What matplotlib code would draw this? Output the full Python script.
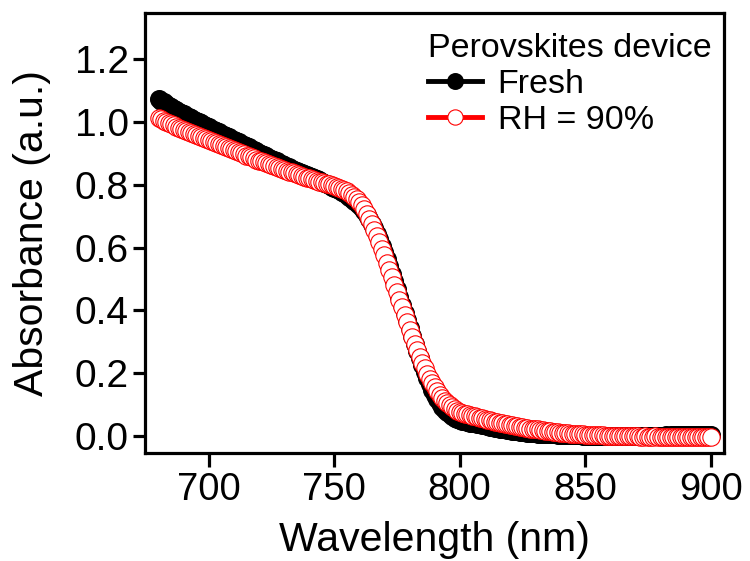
import numpy as np
import matplotlib
matplotlib.use("Agg")
import matplotlib.pyplot as plt

# wavelength grid (nm), one reading per nm
wavelength = np.arange(680, 901)

# absorbance, 680..900 nm
fresh = [
    1.072, 1.067, 1.062, 1.057, 1.052, 1.047, 1.042, 1.038, 1.033, 1.028,
    1.024, 1.020, 1.015, 1.011, 1.007, 1.003, 0.999, 0.995, 0.991, 0.987,
    0.983, 0.979, 0.975, 0.971, 0.967, 0.963, 0.959, 0.955, 0.951, 0.947,
    0.943, 0.939, 0.935, 0.931, 0.927, 0.923, 0.919, 0.914, 0.910, 0.906,
    0.902, 0.898, 0.894, 0.890, 0.886, 0.882, 0.878, 0.874, 0.870, 0.866,
    0.862, 0.858, 0.855, 0.851, 0.848, 0.844, 0.841, 0.837, 0.834, 0.831,
    0.827, 0.824, 0.821, 0.817, 0.814, 0.810, 0.806, 0.802, 0.798, 0.794,
    0.790, 0.786, 0.782, 0.777, 0.773, 0.768, 0.762, 0.756, 0.749, 0.742,
    0.735, 0.726, 0.715, 0.703, 0.690, 0.676, 0.661, 0.644, 0.626, 0.606,
    0.585, 0.563, 0.540, 0.516, 0.492, 0.468, 0.443, 0.418, 0.393, 0.368,
    0.343, 0.318, 0.294, 0.270, 0.247, 0.225, 0.204, 0.184, 0.165, 0.148,
    0.132, 0.118, 0.105, 0.094, 0.084, 0.076, 0.069, 0.063, 0.058, 0.054,
    0.051, 0.049, 0.047, 0.045, 0.043, 0.041, 0.040, 0.038, 0.037, 0.035,
    0.034, 0.032, 0.030, 0.028, 0.027, 0.025, 0.024, 0.022, 0.021, 0.019,
    0.018, 0.017, 0.016, 0.015, 0.014, 0.013, 0.012, 0.011, 0.010, 0.010,
    0.009, 0.008, 0.008, 0.007, 0.007, 0.006, 0.006, 0.005, 0.005, 0.004,
    0.004, 0.004, 0.003, 0.003, 0.003, 0.002, 0.002, 0.002, 0.002, 0.001,
    0.001, 0.001, 0.001, 0.001, 0.000, 0.000, 0.000, 0.000, 0.000, 0.000,
    0.000, 0.000, 0.000, 0.000, 0.000, 0.000, 0.000, 0.000, 0.001, 0.000,
    0.000, 0.001, 0.000, 0.001, 0.001, 0.001, 0.001, 0.001, 0.001, 0.001,
    0.001, 0.001, 0.002, 0.001, 0.002, 0.002, 0.002, 0.002, 0.002, 0.002,
    0.002, 0.002, 0.002, 0.003, 0.002, 0.002, 0.003, 0.002, 0.003, 0.003,
    0.003,
]

rh90 = [
    1.012, 1.008, 1.004, 1.000, 0.996, 0.993, 0.989, 0.985, 0.982, 0.978,
    0.975, 0.972, 0.968, 0.965, 0.961, 0.958, 0.955, 0.951, 0.948, 0.945,
    0.942, 0.939, 0.935, 0.932, 0.929, 0.926, 0.923, 0.919, 0.916, 0.913,
    0.910, 0.907, 0.903, 0.900, 0.897, 0.893, 0.890, 0.887, 0.884, 0.880,
    0.877, 0.874, 0.871, 0.868, 0.865, 0.862, 0.859, 0.856, 0.853, 0.851,
    0.848, 0.845, 0.842, 0.839, 0.837, 0.834, 0.831, 0.828, 0.826, 0.823,
    0.820, 0.818, 0.815, 0.813, 0.810, 0.808, 0.806, 0.803, 0.801, 0.798,
    0.796, 0.794, 0.791, 0.787, 0.784, 0.779, 0.774, 0.768, 0.762, 0.754,
    0.745, 0.735, 0.722, 0.708, 0.692, 0.675, 0.657, 0.638, 0.618, 0.597,
    0.575, 0.552, 0.529, 0.506, 0.482, 0.458, 0.434, 0.410, 0.386, 0.362,
    0.339, 0.316, 0.294, 0.273, 0.253, 0.234, 0.216, 0.199, 0.183, 0.168,
    0.155, 0.143, 0.132, 0.122, 0.113, 0.105, 0.098, 0.091, 0.085, 0.079,
    0.075, 0.073, 0.071, 0.069, 0.067, 0.065, 0.063, 0.061, 0.058, 0.056,
    0.054, 0.052, 0.050, 0.048, 0.046, 0.044, 0.042, 0.041, 0.039, 0.037,
    0.036, 0.034, 0.033, 0.031, 0.030, 0.029, 0.027, 0.026, 0.024, 0.023,
    0.022, 0.021, 0.019, 0.018, 0.017, 0.016, 0.015, 0.014, 0.013, 0.012,
    0.011, 0.010, 0.009, 0.009, 0.008, 0.007, 0.006, 0.006, 0.005, 0.005,
    0.004, 0.004, 0.003, 0.003, 0.003, 0.002, 0.002, 0.002, 0.001, 0.001,
    0.001, 0.001, 0.000, 0.000, 0.000, 0.000, -0.001, -0.001, -0.001, -0.001,
    -0.001, -0.001, -0.002, -0.002, -0.001, -0.002, -0.002, -0.002, -0.001, -0.002,
    -0.002, -0.002, -0.002, -0.003, -0.002, -0.002, -0.003, -0.002, -0.003, -0.003,
    -0.003, -0.002, -0.003, -0.003, -0.003, -0.003, -0.002, -0.003, -0.003, -0.003,
    -0.003,
]

x_ticks = [700, 750, 800, 850, 900]
y_ticks = [0.0, 0.2, 0.4, 0.6, 0.8, 1.0, 1.2]

plt.rcParams['font.family'] = ['Liberation Sans', 'DejaVu Sans']

fig = plt.figure(figsize=(7.5, 5.61), dpi=100)
ax = fig.add_axes([0.193, 0.1925, 0.772, 0.7845])

ax.plot(wavelength, fresh, color='black', lw=3.5, marker='o', ms=12.5,
        mfc='black', mec='black', mew=1.2, label='Fresh')
ax.plot(wavelength, rh90, color='red', lw=3.5, marker='o', ms=12.5,
        mfc='white', mec='red', mew=0.8, label='RH = 90%')

ax.set_xlim(674.5, 905.2)
ax.set_ylim(-0.054, 1.347)
ax.set_xticks(x_ticks)
ax.set_yticks(y_ticks)
ax.set_yticklabels(['%.1f' % v for v in y_ticks])

for s in ax.spines.values():
    s.set_linewidth(2.3)
ax.tick_params(axis='x', length=10, width=2.3, labelsize=27.5, pad=4)
ax.tick_params(axis='y', length=8.5, width=2.3, labelsize=28, pad=3)

ax.set_xlabel('Wavelength (nm)', fontsize=29.5, labelpad=9)
ax.set_ylabel('Absorbance (a.u.)', fontsize=29.5, labelpad=17)

leg = ax.legend(title='Perovskites device', loc='upper right',
                bbox_to_anchor=(0.979, 0.955), frameon=False, fontsize=24.5,
                title_fontsize=24.5, handlelength=1.6, handletextpad=0.45,
                labelspacing=0.15, borderpad=0, borderaxespad=0,
                markerscale=0.88)
leg._legend_box.align = 'left'

fig.savefig('out.png', dpi=100)
